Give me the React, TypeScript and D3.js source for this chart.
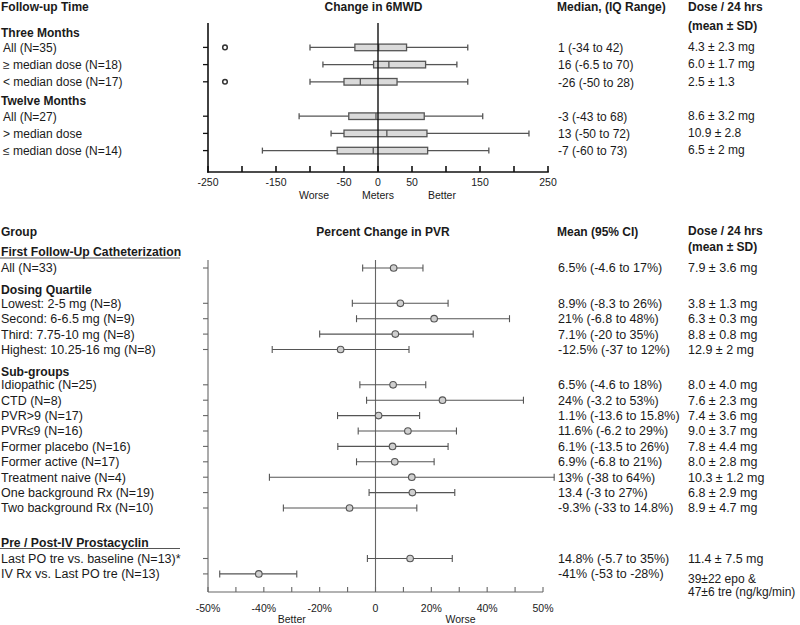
import React from "react";
import * as d3 from "d3";

// ---------- Top panel data (Change in 6MWD) ----------
const topGroupNames = ["Three Months", "Twelve Months"];
const topLabels = [
  "All (N=35)",
  "\u2265 median dose (N=18)",
  "< median dose (N=17)",
  "All (N=27)",
  "> median dose",
  "\u2264 median dose (N=14)",
];
const topGroupOf = [0, 0, 0, 1, 1, 1];
const whiskerLow = [-100, -81, -100, -116, -69, -170];
const q1 = [-34, -6.5, -50, -43, -50, -60];
const medians = [1, 16, -26, -3, 13, -7];
const q3 = [42, 70, 28, 68, 72, 73];
const whiskerHigh = [132, 116, 132, 154, 222, 163];
const outliers: number[][] = [[-225], [], [-225], [], [], []];
const medianText = [
  "1 (-34 to 42)",
  "16 (-6.5 to 70)",
  "-26 (-50 to 28)",
  "-3 (-43 to 68)",
  "13 (-50 to 72)",
  "-7 (-60 to 73)",
];
const topDoseText = [
  "4.3 \u00b1 2.3 mg",
  "6.0 \u00b1 1.7 mg",
  "2.5 \u00b1 1.3",
  "8.6 \u00b1 3.2 mg",
  "10.9 \u00b1 2.8",
  "6.5 \u00b1 2 mg",
];
const topTicks = d3.range(-250, 251, 50);
const topTickLabels = [-250, -150, -50, 0, 50, 150, 250];

// ---------- Bottom panel data (Percent change in PVR) ----------
const pvrSectionNames = [
  "First Follow-Up Catheterization",
  "Dosing Quartile",
  "Sub-groups",
  "Pre / Post-IV Prostacyclin",
];
const pvrSectionUnderlined = [true, false, false, true];
const pvrLabels = [
  "All (N=33)",
  "Lowest: 2-5 mg (N=8)",
  "Second: 6-6.5 mg (N=9)",
  "Third: 7.75-10 mg (N=8)",
  "Highest: 10.25-16 mg (N=8)",
  "Idiopathic (N=25)",
  "CTD (N=8)",
  "PVR>9 (N=17)",
  "PVR\u22649 (N=16)",
  "Former placebo (N=16)",
  "Former active (N=17)",
  "Treatment naive (N=4)",
  "One background Rx (N=19)",
  "Two background Rx (N=10)",
  "Last PO tre vs. baseline (N=13)*",
  "IV Rx vs. Last PO tre (N=13)",
];
const pvrSectionOf = [0, 1, 1, 1, 1, 2, 2, 2, 2, 2, 2, 2, 2, 2, 3, 3];
const pvrMean = [6.5, 8.9, 21, 7.1, -12.5, 6.3, 24, 1.1, 11.6, 6.1, 6.9, 13, 13.2, -9.3, 12.4, -41.8];
const pvrLow = [-4.6, -8.3, -6.8, -20, -37, -5.6, -3.2, -13.6, -6.2, -13.5, -6.8, -38, -2.3, -33, -2.9, -55.8];
const pvrHigh = [17, 26, 48, 35, 12, 18, 53, 15.8, 29, 26, 21, 64, 28.4, 14.8, 27.5, -28.2];
const pvrCIText = [
  "6.5% (-4.6 to 17%)",
  "8.9% (-8.3 to 26%)",
  "21% (-6.8 to 48%)",
  "7.1% (-20 to 35%)",
  "-12.5% (-37 to 12%)",
  "6.5% (-4.6 to 18%)",
  "24% (-3.2 to 53%)",
  "1.1% (-13.6 to 15.8%)",
  "11.6% (-6.2 to 29%)",
  "6.1% (-13.5 to 26%)",
  "6.9% (-6.8 to 21%)",
  "13% (-38 to 64%)",
  "13.4 (-3 to 27%)",
  "-9.3% (-33 to 14.8%)",
  "14.8% (-5.7 to 35%)",
  "-41% (-53 to -28%)",
];
const pvrDoseText: string[][] = [
  ["7.9 \u00b1 3.6 mg"],
  ["3.8 \u00b1 1.3 mg"],
  ["6.3 \u00b1 0.3 mg"],
  ["8.8 \u00b1 0.8 mg"],
  ["12.9 \u00b1 2 mg"],
  ["8.0 \u00b1 4.0 mg"],
  ["7.6 \u00b1 2.3 mg"],
  ["7.4 \u00b1 3.6 mg"],
  ["9.0 \u00b1 3.7 mg"],
  ["7.8 \u00b1 4.4 mg"],
  ["8.0 \u00b1 2.8 mg"],
  ["10.3 \u00b1 1.2 mg"],
  ["6.8 \u00b1 2.9 mg"],
  ["8.9 \u00b1 4.7 mg"],
  ["11.4 \u00b1 7.5 mg"],
  ["39\u00b122 epo &", "47\u00b16 tre (ng/kg/min)"],
];
const pvrTicks = d3.range(-60, 61, 10);
const pvrTickValues = [-60, -40, -20, 0, 20, 40, 60];
const pvrTickLabels = ["-50%", "-40%", "-20%", "0", "20%", "40%", "50%"];

// ---------- layout helpers ----------
type Item = { kind: "head" | "row"; idx: number; y: number };

function layoutTop(): Item[] {
  const items: Item[] = [];
  let y = 32.3;
  let prev: Item | null = null;
  topLabels.forEach((_, i) => {
    const g = topGroupOf[i];
    if (i === 0 || topGroupOf[i - 1] !== g) {
      if (prev) y += 19.3;
      prev = { kind: "head", idx: g, y };
      items.push(prev);
    }
    y += prev && prev.kind === "head" ? 15.1 : 17.2;
    prev = { kind: "row", idx: i, y };
    items.push(prev);
  });
  return items;
}

function layoutBottom(): Item[] {
  const items: Item[] = [];
  let y = 252;
  let prev: Item | null = null;
  pvrLabels.forEach((_, i) => {
    const s = pvrSectionOf[i];
    if (i === 0 || pvrSectionOf[i - 1] !== s) {
      if (prev) y += pvrSectionUnderlined[s] ? 34.5 : 22;
      prev = { kind: "head", idx: s, y };
      items.push(prev);
    }
    if (prev && prev.kind === "head") y += pvrSectionUnderlined[prev.idx] ? 16 : 13.3;
    else y += 15.4;
    prev = { kind: "row", idx: i, y };
    items.push(prev);
  });
  return items;
}

const FONT = "'Liberation Sans', Arial, Helvetica, sans-serif";
const TXT = "#1a1a1a";

export default function App() {
  const xTop = d3.scaleLinear().domain([-250, 250]).range([208, 548]);
  const xPvr = d3.scaleLinear().domain([-60, 60]).range([208, 543]);
  const topItems = layoutTop();
  const botItems = layoutBottom();
  const topY0 = 23, topY1 = 172;
  const botY0 = 260, botY1 = 592;
  const colA = 557, colB = 688;

  return (
    <svg
      width={800}
      height={625}
      style={{ position: "absolute", left: 0, top: 0, background: "#fff" }}
      fontFamily={FONT}
    >
      <rect x={0} y={0} width={800} height={625} fill="#fff" />
      {/* ---------- Top headers ---------- */}
      <g fontSize={12} fontWeight="bold" fill={TXT}>
        <text x={1} y={11}>Follow-up Time</text>
        <text x={373.5} y={11} textAnchor="middle">Change in 6MWD</text>
        <text x={colA} y={11}>Median, (IQ Range)</text>
        <text x={colB} y={11}>Dose / 24 hrs</text>
        <text x={colB} y={30}>(mean ± SD)</text>
      </g>

      {/* ---------- Top rows ---------- */}
      {topItems.map((it, k) =>
        it.kind === "head" ? (
          <text key={"th" + k} x={1} y={it.y + 4.3} fontSize={12} fontWeight="bold" fill={TXT}>
            {topGroupNames[it.idx]}
          </text>
        ) : (
          <g key={"tr" + k} fill={TXT} fontSize={12}>
            <text x={3} y={it.y + 4.3}>{topLabels[it.idx]}</text>
            <text x={colA + 1} y={it.y + 4.8}>{medianText[it.idx]}</text>
            <text x={colB} y={it.y + 3.8}>{topDoseText[it.idx]}</text>
          </g>
        )
      )}

      {/* top plot */}
      <g stroke="#555" strokeWidth={1.3} fill="none">
        {topItems
          .filter((it) => it.kind === "row")
          .map((it) => {
            const i = it.idx;
            const y = it.y;
            const bh = 3.3;
            return (
              <g key={"box" + i}>
                <line x1={xTop(whiskerLow[i])} x2={xTop(q1[i])} y1={y} y2={y} />
                <line x1={xTop(q3[i])} x2={xTop(whiskerHigh[i])} y1={y} y2={y} />
                <line x1={xTop(whiskerLow[i])} x2={xTop(whiskerLow[i])} y1={y - 3} y2={y + 3} />
                <line x1={xTop(whiskerHigh[i])} x2={xTop(whiskerHigh[i])} y1={y - 3} y2={y + 3} />
                <rect
                  x={xTop(q1[i])}
                  y={y - bh}
                  width={xTop(q3[i]) - xTop(q1[i])}
                  height={bh * 2}
                  fill="#dadada"
                />
                <line x1={xTop(medians[i])} x2={xTop(medians[i])} y1={y - bh} y2={y + bh} />
                {outliers[i].map((o, j) => (
                  <circle key={j} cx={xTop(o)} cy={y} r={2.3} stroke="#333" strokeWidth={1.5} fill="#fff" />
                ))}
                <line x1={203} x2={208} y1={y} y2={y} stroke="#111" />
              </g>
            );
          })}
      </g>
      <g stroke="#111" strokeWidth={1.6}>
        <line x1={xTop(0)} x2={xTop(0)} y1={topY0} y2={topY1} strokeWidth={1.4} />
        <line x1={208} x2={208} y1={topY0} y2={topY1 + 0.8} />
        <line x1={207.2} x2={xTop(250) + 0.8} y1={topY1} y2={topY1} />
        {topTicks.map((t) => (
          <line key={t} x1={xTop(t)} x2={xTop(t)} y1={topY1 - 6} y2={topY1} />
        ))}
      </g>
      <g fontSize={10.5} fill={TXT} textAnchor="middle">
        {topTickLabels.map((t) => (
          <text key={t} x={xTop(t)} y={186}>{t}</text>
        ))}
        <text x={xTop(-94)} y={199}>Worse</text>
        <text x={xTop(0)} y={199}>Meters</text>
        <text x={xTop(94)} y={199}>Better</text>
      </g>

      {/* ---------- Bottom headers ---------- */}
      <g fontSize={12} fontWeight="bold" fill={TXT}>
        <text x={1} y={236}>Group</text>
        <text x={383} y={236} textAnchor="middle">Percent Change in PVR</text>
        <text x={colA} y={236}>Mean (95% CI)</text>
        <text x={colB} y={235}>Dose / 24 hrs</text>
        <text x={colB} y={251}>(mean ± SD)</text>
      </g>

      {botItems.map((it, k) =>
        it.kind === "head" ? (
          <g key={"bh" + k}>
            <text x={1} y={it.y + 4.3} fontSize={12.2} fontWeight="bold" fill={TXT}>
              {pvrSectionNames[it.idx]}
            </text>
            {pvrSectionUnderlined[it.idx] && (
              <line x1={0} x2={180} y1={it.y + 6} y2={it.y + 6} stroke="#555" strokeWidth={1.2} />
            )}
          </g>
        ) : (
          <g key={"br" + k} fill={TXT} fontSize={12.5}>
            <text x={1} y={it.y + 4.4}>{pvrLabels[it.idx]}</text>
            <text x={colA + 1} y={it.y + 4.4}>{pvrCIText[it.idx]}</text>
            {pvrDoseText[it.idx].map((line, j) => (
              <text
                key={j}
                x={colB}
                y={it.y + 4.4 + (pvrDoseText[it.idx].length > 1 ? 4.5 : 0) + j * 13}
                fontSize={pvrDoseText[it.idx].length > 1 ? 12 : 12.5}
              >
                {line}
              </text>
            ))}
          </g>
        )
      )}

      {/* bottom plot */}
      <g stroke="#666" strokeWidth={1.1}>
        <line x1={xPvr(0)} x2={xPvr(0)} y1={botY0} y2={botY1} />
        <line x1={208} x2={208} y1={botY0} y2={botY1} />
        <line x1={208} x2={xPvr(60)} y1={botY1} y2={botY1} />
        {pvrTicks.map((t) => (
          <line key={t} x1={xPvr(t)} x2={xPvr(t)} y1={botY1 - 5} y2={botY1} />
        ))}
      </g>
      <g stroke="#555" strokeWidth={1.1}>
        {botItems
          .filter((it) => it.kind === "row")
          .map((it) => {
            const i = it.idx;
            const y = it.y;
            return (
              <g key={"eb" + i}>
                <line x1={203} x2={208} y1={y} y2={y} stroke="#666" />
                <line x1={xPvr(pvrLow[i])} x2={xPvr(pvrHigh[i])} y1={y} y2={y} />
                <line x1={xPvr(pvrLow[i])} x2={xPvr(pvrLow[i])} y1={y - 3.5} y2={y + 3.5} />
                <line x1={xPvr(pvrHigh[i])} x2={xPvr(pvrHigh[i])} y1={y - 3.5} y2={y + 3.5} />
                <circle cx={xPvr(pvrMean[i])} cy={y} r={3.3} fill="#cfcfcf" stroke="#555" strokeWidth={1.1} />
              </g>
            );
          })}
      </g>
      <g fontSize={10.5} fill={TXT} textAnchor="middle">
        {pvrTickValues.map((t, j) => (
          <text key={t} x={xPvr(t)} y={611.5}>{pvrTickLabels[j]}</text>
        ))}
        <text x={xPvr(-30)} y={623}>Better</text>
        <text x={xPvr(30.5)} y={623}>Worse</text>
      </g>
    </svg>
  );
}
